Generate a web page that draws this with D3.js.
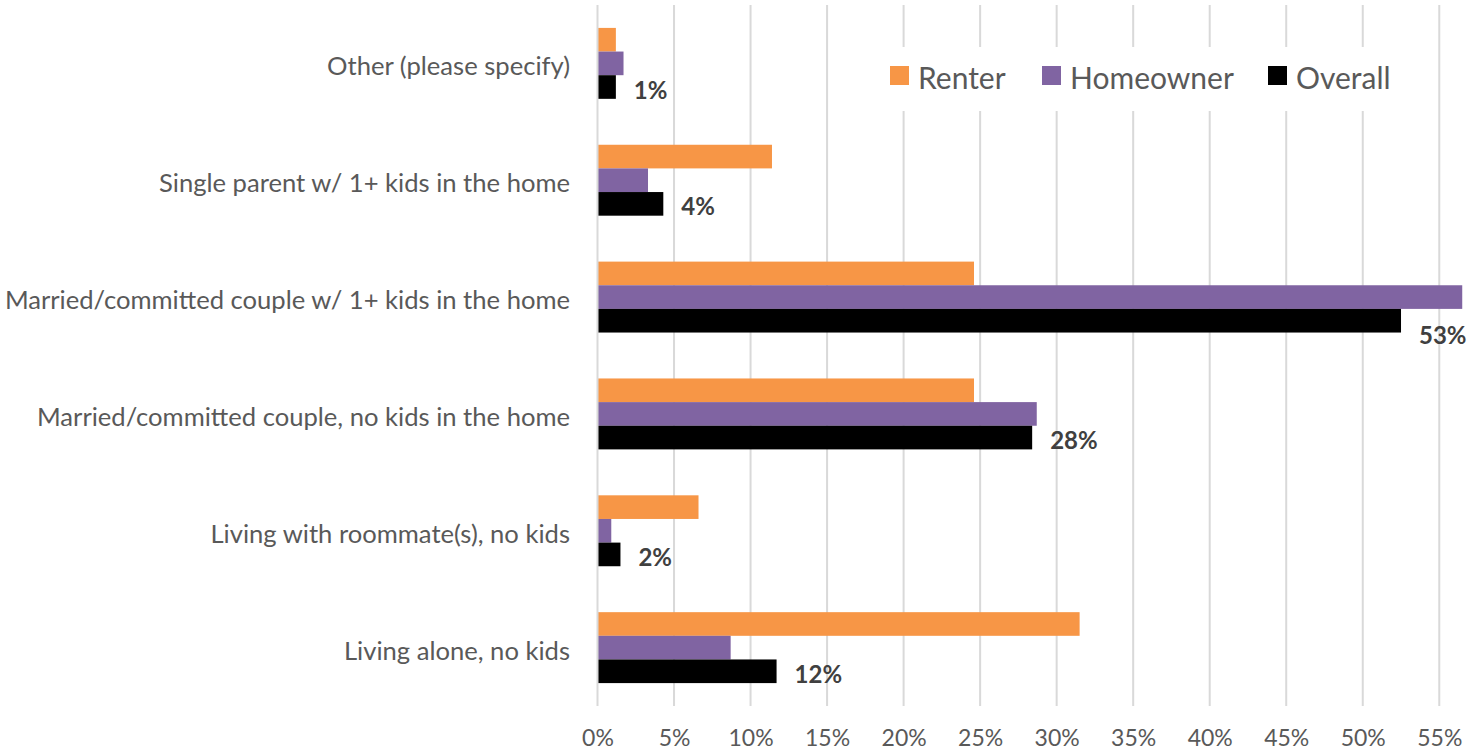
<!DOCTYPE html>
<html>
<head>
<meta charset="utf-8">
<script src="https://cdn.jsdelivr.net/npm/d3@7"></script>
<style>
  html, body { margin: 0; padding: 0; background: #fff; }
  svg { display: block; }
</style>
</head>
<body>
<svg id="chart" width="1482" height="753"></svg>
<script>
// ---- data (top to bottom as drawn) ----
const categories = [
  "Other (please specify)",
  "Single parent w/ 1+ kids in the home",
  "Married/committed couple w/ 1+ kids in the home",
  "Married/committed couple, no kids in the home",
  "Living with roommate(s), no kids",
  "Living alone, no kids"
];
const seriesNames = ["Renter", "Homeowner", "Overall"];
const renter    = [1.2, 11.4, 24.6, 24.6, 6.6, 31.5];
const homeowner = [1.7, 3.3, 56.5, 28.7, 0.9, 8.7];
const overall   = [1.2, 4.3, 52.5, 28.4, 1.5, 11.7];
const overallLabels = ["1%", "4%", "53%", "28%", "2%", "12%"];
const tickValues = [0, 5, 10, 15, 20, 25, 30, 35, 40, 45, 50, 55];
const colors = ["#F79646", "#8064A2", "#000000"];

const seriesValues = [renter, homeowner, overall];
const FONT = "Lato, 'Open Sans', sans-serif";

const svg = d3.select("#chart");
const plot = { left: 597.5, right: 1463, top: 5, bottom: 706 };

const x = d3.scaleLinear().domain([0, 56.55]).range([plot.left, plot.right]);
const y = d3.scaleBand().domain(categories).range([plot.top, plot.bottom]).paddingInner(0.393).paddingOuter(0.196);
const ySub = d3.scaleBand().domain(seriesNames).range([0, y.bandwidth()]);

// gridlines + tick marks
const grid = svg.append("g");
grid.selectAll("line").data(tickValues.filter(d => d > 0)).join("line")
  .attr("x1", d => x(d)).attr("x2", d => x(d))
  .attr("y1", plot.top).attr("y2", plot.bottom)
  .attr("stroke", "#d9d9d9").attr("stroke-width", 2);

// x axis labels
const xAxis = d3.axisBottom(x).tickValues(tickValues).tickFormat(d => d + "%").tickSize(0).tickPadding(0);
const xg = svg.append("g").attr("transform", `translate(0,${plot.bottom})`).call(xAxis);
xg.select(".domain").remove();
xg.selectAll("text")
  .attr("y", 32).attr("dy", "0.35em")
  .attr("fill", "#595959").style("font-family", FONT).style("font-size", "23px");

// bars
const groups = svg.append("g").selectAll("g").data(categories).join("g")
  .attr("transform", c => `translate(0,${y(c)})`);
seriesNames.forEach((s, si) => {
  groups.append("rect")
    .attr("x", x(0))
    .attr("y", ySub(s))
    .attr("height", ySub.bandwidth())
    .attr("width", (c, i) => x(seriesValues[si][i]) - x(0))
    .attr("fill", colors[si]);
});

// vertical axis line at 0
svg.append("line")
  .attr("x1", x(0)).attr("x2", x(0))
  .attr("y1", plot.top).attr("y2", plot.bottom)
  .attr("stroke", "#d9d9d9").attr("stroke-width", 2);

// category labels
svg.append("g").selectAll("text").data(categories).join("text")
  .attr("x", 570)
  .attr("y", c => y(c) + y.bandwidth() / 2 + 2)
  .attr("text-anchor", "end")
  .attr("dominant-baseline", "central")
  .attr("fill", "#595959")
  .style("font-family", FONT).style("font-size", "25.6px")
  .text(c => c);

// data labels for Overall
const lbl = svg.append("g").selectAll("text").data(categories).join("text")
  .attr("fill", "#404040")
  .attr("dominant-baseline", "central")
  .style("font-family", FONT).style("font-size", "24px").style("font-weight", "bold")
  .text((c, i) => overallLabels[i]);
lbl.each(function(c, i) {
  const t = d3.select(this);
  const w = this.getComputedTextLength();
  const lx = x(overall[i]) + 18;
  let ly = y(c) + ySub("Overall") + ySub.bandwidth() / 2 + 2;
  if (lx + w > plot.right) { ly += ySub.bandwidth() / 2; }
  t.attr("x", lx).attr("y", ly);
});

// legend
const leg = svg.append("g");
leg.append("rect").attr("x", 875).attr("y", 47).attr("width", 535).attr("height", 64).attr("fill", "#fff");
const legX = [890, 1042, 1268];
seriesNames.forEach((s, i) => {
  leg.append("rect").attr("x", legX[i]).attr("y", 66).attr("width", 19).attr("height", 19).attr("fill", colors[i]);
  leg.append("text").attr("x", legX[i] + 28).attr("y", 76.5)
    .attr("dominant-baseline", "central")
    .attr("fill", "#595959")
    .style("font-family", FONT).style("font-size", "30px")
    .text(s);
});
</script>
</body>
</html>
